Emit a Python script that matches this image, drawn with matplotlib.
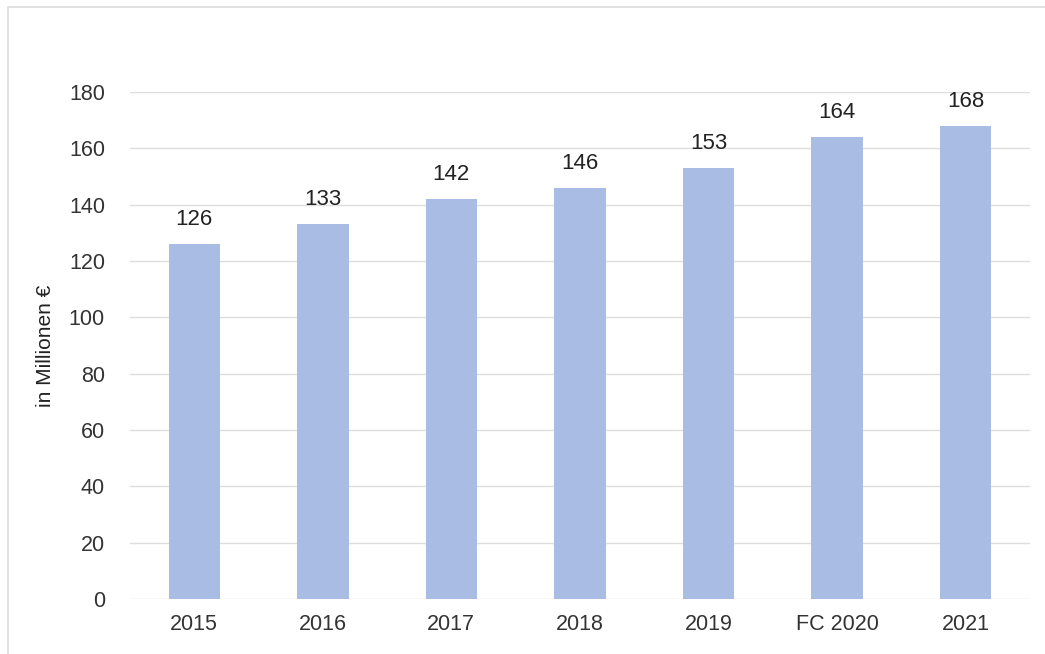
import matplotlib.pyplot as plt
from matplotlib.patches import Rectangle

plt.rcParams['font.family'] = ['Liberation Sans', 'DejaVu Sans']

# data
categories = ['2015', '2016', '2017', '2018', '2019', 'FC 2020', '2021']
values = [126, 133, 142, 146, 153, 164, 168]

fig = plt.figure(figsize=(10.45, 6.54), dpi=100)
fig.patches.append(Rectangle((0.008, -0.01), 1.2, 1.0, transform=fig.transFigure,
                             fill=False, edgecolor='#dcdcdc', lw=1.2))
ax = fig.add_axes([0.1244, 0.0841, 0.861, 0.775])

x = range(len(categories))
bars = ax.bar(x, values, width=0.4, color='#a9bce3', zorder=2)
for xi, v in zip(x, values):
    ax.text(xi, v + 5, str(v), ha='center', va='bottom', fontsize=16,
            color='#222222', clip_on=False)

ax.set_xlim(-0.5, len(categories) - 0.5)
ax.set_ylim(0, 180)
ax.set_yticks(range(0, 181, 20))
ax.set_xticks(list(x))
ax.set_xticklabels(categories)
ax.grid(axis='y', color='#dedede', lw=1, zorder=0)
for s in ax.spines.values():
    s.set_visible(False)
ax.tick_params(length=0, labelsize=15.5, colors='#333333', pad=11)
ax.tick_params(axis='y', pad=18)
ax.set_ylabel('in Millionen €', fontsize=15, color='#222222', labelpad=10)

fig.savefig('out.png', dpi=100)
